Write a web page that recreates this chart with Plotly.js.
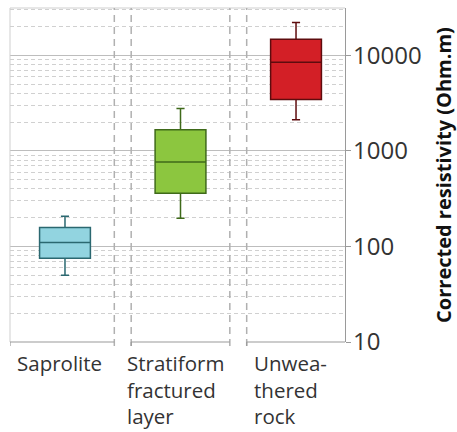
<!DOCTYPE html>
<html>
<head>
<meta charset="utf-8">
<script src="https://cdn.plot.ly/plotly-3.0.1.min.js"></script>
<style>
  html, body { margin: 0; padding: 0; background: #fff; }
  #chart { width: 457px; height: 432px; }
</style>
</head>
<body>
<div id="chart"></div>
<script>
// Resistivity classes along the weathering profile
const categories = ['Saprolite', 'Stratiform<br>fractured<br>layer', 'Unwea-<br>thered<br>rock'];

// Box-plot statistics, corrected resistivity in Ohm.m
const lowWhisker  = [50, 197, 2120];
const quartile1   = [75, 361, 3440];
const medians     = [110, 766, 8440];
const quartile3   = [158, 1660, 14700];
const highWhisker = [207, 2770, 22000];

// Right-hand axis ticks
const tickValues = [10, 100, 1000, 10000];
const tickLabels = ['10', '100', '1000', '10000'];

// Styling for each class
const fillColors = ['#92d4e0', '#8cc63f', '#d31f26'];
const edgeColors = ['#2b6870', '#3f6a1a', '#5e0c0e'];

const FONT = '"Open Sans", Lato, sans-serif';

const traces = categories.map((c, i) => ({
  type: 'box',
  x: [i],
  q1: [quartile1[i]],
  median: [medians[i]],
  q3: [quartile3[i]],
  lowerfence: [lowWhisker[i]],
  upperfence: [highWhisker[i]],
  width: 0.44,
  whiskerwidth: 0.16,
  fillcolor: fillColors[i],
  line: { color: edgeColors[i], width: 1.5 },
  boxpoints: false,
  hoverinfo: 'skip',
  showlegend: false
}));

const xMin = -0.476, xMax = 2.424;
const gap = 0.073;          // half-width of the break between classes
const sepColor = '#b0b0b0';
const axisColor = '#9a9a9a';

const shapes = [];
// frame: top and left edges
shapes.push({ type: 'line', xref: 'paper', yref: 'paper', x0: 0, x1: 1, y0: 1, y1: 1,
  line: { color: '#cfcfcf', width: 1 } });
shapes.push({ type: 'line', xref: 'paper', yref: 'paper', x0: 0, x1: 0, y0: 0, y1: 1,
  line: { color: '#cfcfcf', width: 1 } });
// broken category axis with dashed breaks between classes
const segStarts = [xMin];
const segEnds = [];
for (let i = 0; i < categories.length - 1; i++) {
  const b = i + 0.5;
  segEnds.push(b - gap);
  segStarts.push(b + gap);
  [b - gap, b + gap].forEach(xv => {
    shapes.push({ type: 'line', xref: 'x', yref: 'paper', x0: xv, x1: xv, y0: -0.012, y1: 1,
      line: { color: sepColor, width: 1.5, dash: '7px,5px' } });
  });
}
segEnds.push(xMax);
segStarts.forEach((s, k) => {
  shapes.push({ type: 'line', xref: 'x', yref: 'paper', x0: s, x1: segEnds[k], y0: 0, y1: 0,
    line: { color: axisColor, width: 1.2 } });
  shapes.push({ type: 'line', xref: 'x', yref: 'paper', x0: s, x1: s, y0: 0, y1: -0.012,
    line: { color: axisColor, width: 1.2 } });
});

const labelShift = [0.067, 0.02, 0.12];
const annotations = categories.map((c, i) => ({
  text: c,
  xref: 'x', yref: 'paper',
  x: i - 0.5 + labelShift[i], y: 0,
  xanchor: 'left', yanchor: 'top', align: 'left',
  yshift: -5,
  showarrow: false,
  font: { family: FONT, size: 20.5, color: '#333333' }
}));

const layout = {
  width: 457, height: 432,
  margin: { l: 10, r: 112, t: 8, b: 90 },
  paper_bgcolor: '#ffffff',
  plot_bgcolor: '#ffffff',
  showlegend: false,
  xaxis: {
    range: [xMin, xMax],
    showgrid: false, zeroline: false, showline: false,
    showticklabels: false, ticks: '', fixedrange: true
  },
  yaxis: {
    type: 'log',
    range: [1, 4.495],
    side: 'right',
    tickvals: tickValues,
    ticktext: tickLabels,
    ticks: 'outside', ticklen: 5, tickcolor: axisColor,
    ticklabelstandoff: -3,
    showline: true, linecolor: axisColor, linewidth: 1.2,
    showgrid: true, gridcolor: '#bdbdbd', gridwidth: 1,
    zeroline: false,
    minor: { dtick: 'D1', showgrid: true, gridcolor: '#d0d0d0', griddash: '4px,3px', gridwidth: 1, ticks: '' },
    tickfont: { family: FONT, size: 24, color: '#333333' },
    title: {
      text: '<b>Corrected resistivity (Ohm.m)</b>',
      font: { family: FONT, size: 20, color: '#111111' },
      standoff: 17
    },
    fixedrange: true
  },
  shapes: shapes,
  annotations: annotations
};

Plotly.newPlot('chart', traces, layout, { displayModeBar: false, staticPlot: true });
</script>
</body>
</html>
